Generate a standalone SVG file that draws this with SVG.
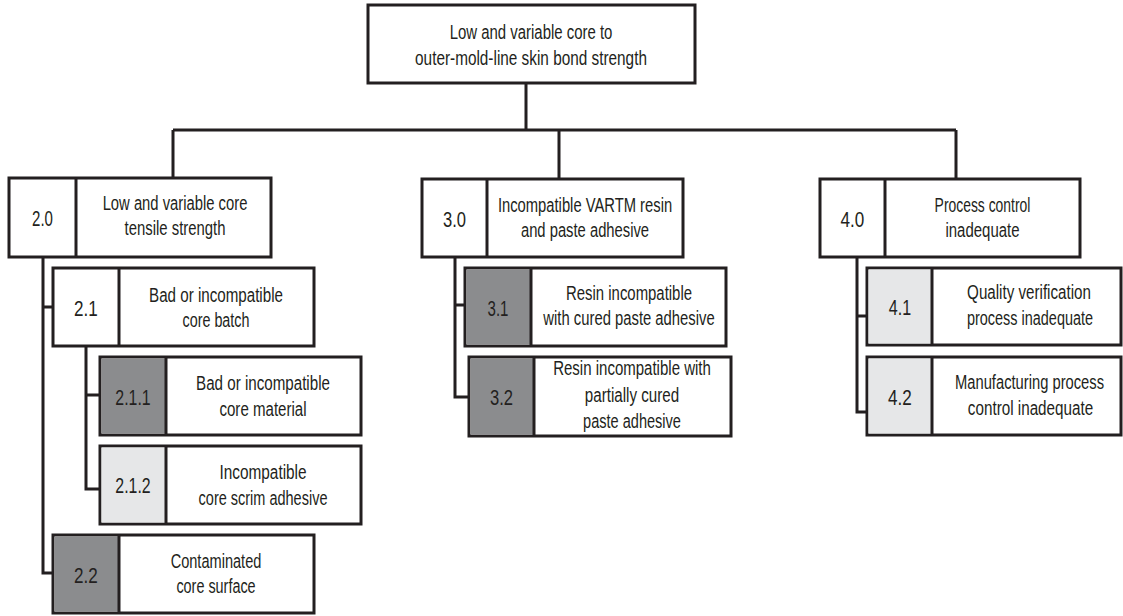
<svg xmlns="http://www.w3.org/2000/svg" width="1123" height="616" viewBox="0 0 1123 616">
  <style>
    .box { fill: #ffffff; stroke: #231f20; stroke-width: 3; }
    .div { stroke: #231f20; stroke-width: 3; }
    .dark { fill: #8b8c8e; }
    .light { fill: #e6e7e8; }
    .wire { fill: none; stroke: #231f20; stroke-width: 3; stroke-linejoin: miter; }
    text { font-family: "Liberation Sans", Arial, sans-serif; fill: #231f20; text-anchor: middle; }
    .lbl { font-size: 21px; }
    .num { font-size: 22px; }
  </style>
  <rect width="1123" height="616" fill="#ffffff"/>

  <!-- tree connectors -->
  <g id="connectors">
    <path class="wire" d="M526 83 V130 M173 130 H956 M173 130 V178 M559 130 V179 M956 130 V179"/>
    <path class="wire" d="M43 257 V573 H53 M43 307 H53"/>
    <path class="wire" d="M86 346 V489 H100 M86 395 H100"/>
    <path class="wire" d="M455 257 V397 H469 M455 305 H465"/>
    <path class="wire" d="M857 257 V412 H867 M857 316 H867"/>
  </g>

  <!-- root (condensed lettering: scale 0.72 horizontally) -->
  <g id="node-root">
    <rect class="box" x="368" y="5" width="327" height="78"/>
    <text class="lbl" transform="translate(531 39) scale(0.72 1)" textLength="226" lengthAdjust="spacingAndGlyphs">Low and variable core to</text>
    <text class="lbl" transform="translate(531 65) scale(0.72 1)" textLength="322" lengthAdjust="spacingAndGlyphs">outer-mold-line skin bond strength</text>
  </g>

  <!-- branch 2 -->
  <g id="node-2-0">
    <rect class="box" x="9" y="178" width="262" height="79"/>
    <line class="div" x1="76" y1="178" x2="76" y2="257"/>
    <text class="num" transform="translate(42.5 226) scale(0.72 1)" textLength="29" lengthAdjust="spacingAndGlyphs">2.0</text>
    <text class="lbl" transform="translate(175 210) scale(0.72 1)" textLength="201" lengthAdjust="spacingAndGlyphs">Low and variable core</text>
    <text class="lbl" transform="translate(175 235) scale(0.72 1)" textLength="140" lengthAdjust="spacingAndGlyphs">tensile strength</text>
  </g>
  <g id="node-2-1">
    <rect class="box" x="53" y="268" width="261" height="78"/>
    <line class="div" x1="119" y1="268" x2="119" y2="346"/>
    <text class="num" transform="translate(86 316) scale(0.72 1)" textLength="33" lengthAdjust="spacingAndGlyphs">2.1</text>
    <text class="lbl" transform="translate(216 302) scale(0.72 1)" textLength="186" lengthAdjust="spacingAndGlyphs">Bad or incompatible</text>
    <text class="lbl" transform="translate(216 327) scale(0.72 1)" textLength="93" lengthAdjust="spacingAndGlyphs">core batch</text>
  </g>
  <g id="node-2-1-1">
    <rect class="box" x="100" y="357" width="261" height="78"/>
    <rect class="dark" x="101.5" y="358.5" width="64.5" height="75"/>
    <line class="div" x1="166" y1="357" x2="166" y2="435"/>
    <text class="num" transform="translate(133 405) scale(0.72 1)" textLength="49" lengthAdjust="spacingAndGlyphs">2.1.1</text>
    <text class="lbl" transform="translate(263 390) scale(0.72 1)" textLength="186" lengthAdjust="spacingAndGlyphs">Bad or incompatible</text>
    <text class="lbl" transform="translate(263 416) scale(0.72 1)" textLength="121" lengthAdjust="spacingAndGlyphs">core material</text>
  </g>
  <g id="node-2-1-2">
    <rect class="box" x="100" y="446" width="261" height="78"/>
    <rect class="light" x="101.5" y="447.5" width="64.5" height="75"/>
    <line class="div" x1="166" y1="446" x2="166" y2="524"/>
    <text class="num" transform="translate(133 493) scale(0.72 1)" textLength="49" lengthAdjust="spacingAndGlyphs">2.1.2</text>
    <text class="lbl" transform="translate(263 479) scale(0.72 1)" textLength="121" lengthAdjust="spacingAndGlyphs">Incompatible</text>
    <text class="lbl" transform="translate(263 505) scale(0.72 1)" textLength="179" lengthAdjust="spacingAndGlyphs">core scrim adhesive</text>
  </g>
  <g id="node-2-2">
    <rect class="box" x="53" y="535" width="261" height="78"/>
    <rect class="dark" x="54.5" y="536.5" width="64.5" height="75"/>
    <line class="div" x1="119" y1="535" x2="119" y2="613"/>
    <text class="num" transform="translate(86 583) scale(0.72 1)" textLength="33" lengthAdjust="spacingAndGlyphs">2.2</text>
    <text class="lbl" transform="translate(216 568) scale(0.72 1)" textLength="126" lengthAdjust="spacingAndGlyphs">Contaminated</text>
    <text class="lbl" transform="translate(216 593) scale(0.72 1)" textLength="110" lengthAdjust="spacingAndGlyphs">core surface</text>
  </g>

  <!-- branch 3 -->
  <g id="node-3-0">
    <rect class="box" x="422" y="179" width="261" height="78"/>
    <line class="div" x1="487" y1="179" x2="487" y2="257"/>
    <text class="num" transform="translate(454.5 227) scale(0.72 1)" textLength="32" lengthAdjust="spacingAndGlyphs">3.0</text>
    <text class="lbl" transform="translate(585 212) scale(0.72 1)" textLength="242" lengthAdjust="spacingAndGlyphs">Incompatible VARTM resin</text>
    <text class="lbl" transform="translate(585 237) scale(0.72 1)" textLength="178" lengthAdjust="spacingAndGlyphs">and paste adhesive</text>
  </g>
  <g id="node-3-1">
    <rect class="box" x="465" y="268" width="261" height="78"/>
    <rect class="dark" x="466.5" y="269.5" width="64.5" height="75"/>
    <line class="div" x1="531" y1="268" x2="531" y2="346"/>
    <text class="num" transform="translate(498 316) scale(0.72 1)" textLength="29" lengthAdjust="spacingAndGlyphs">3.1</text>
    <text class="lbl" transform="translate(629 300) scale(0.72 1)" textLength="175" lengthAdjust="spacingAndGlyphs">Resin incompatible</text>
    <text class="lbl" transform="translate(629 325) scale(0.72 1)" textLength="238" lengthAdjust="spacingAndGlyphs">with cured paste adhesive</text>
  </g>
  <g id="node-3-2">
    <rect class="box" x="469" y="357" width="262" height="79"/>
    <rect class="dark" x="470.5" y="358.5" width="63.5" height="76"/>
    <line class="div" x1="534" y1="357" x2="534" y2="436"/>
    <text class="num" transform="translate(501.5 405) scale(0.72 1)" textLength="32" lengthAdjust="spacingAndGlyphs">3.2</text>
    <text class="lbl" transform="translate(632 375) scale(0.72 1)" textLength="219" lengthAdjust="spacingAndGlyphs">Resin incompatible with</text>
    <text class="lbl" transform="translate(632 402) scale(0.72 1)" textLength="131" lengthAdjust="spacingAndGlyphs">partially cured</text>
    <text class="lbl" transform="translate(632 428) scale(0.72 1)" textLength="136" lengthAdjust="spacingAndGlyphs">paste adhesive</text>
  </g>

  <!-- branch 4 -->
  <g id="node-4-0">
    <rect class="box" x="820" y="179" width="260" height="78"/>
    <line class="div" x1="885" y1="179" x2="885" y2="257"/>
    <text class="num" transform="translate(852.5 227) scale(0.72 1)" textLength="33" lengthAdjust="spacingAndGlyphs">4.0</text>
    <text class="lbl" transform="translate(982.5 212) scale(0.72 1)" textLength="133" lengthAdjust="spacingAndGlyphs">Process control</text>
    <text class="lbl" transform="translate(982.5 237) scale(0.72 1)" textLength="103" lengthAdjust="spacingAndGlyphs">inadequate</text>
  </g>
  <g id="node-4-1">
    <rect class="box" x="867" y="268" width="254" height="77"/>
    <rect class="light" x="868.5" y="269.5" width="63.5" height="74"/>
    <line class="div" x1="932" y1="268" x2="932" y2="345"/>
    <text class="num" transform="translate(900 315) scale(0.72 1)" textLength="31" lengthAdjust="spacingAndGlyphs">4.1</text>
    <text class="lbl" transform="translate(1029 299) scale(0.72 1)" textLength="172" lengthAdjust="spacingAndGlyphs">Quality verification</text>
    <text class="lbl" transform="translate(1030 325) scale(0.72 1)" textLength="175" lengthAdjust="spacingAndGlyphs">process inadequate</text>
  </g>
  <g id="node-4-2">
    <rect class="box" x="867" y="357" width="254" height="78"/>
    <rect class="light" x="868.5" y="358.5" width="63.5" height="75"/>
    <line class="div" x1="932" y1="357" x2="932" y2="435"/>
    <text class="num" transform="translate(900 405) scale(0.72 1)" textLength="33" lengthAdjust="spacingAndGlyphs">4.2</text>
    <text class="lbl" transform="translate(1029.5 389) scale(0.72 1)" textLength="207" lengthAdjust="spacingAndGlyphs">Manufacturing process</text>
    <text class="lbl" transform="translate(1030.5 415) scale(0.72 1)" textLength="174" lengthAdjust="spacingAndGlyphs">control inadequate</text>
  </g>
</svg>
